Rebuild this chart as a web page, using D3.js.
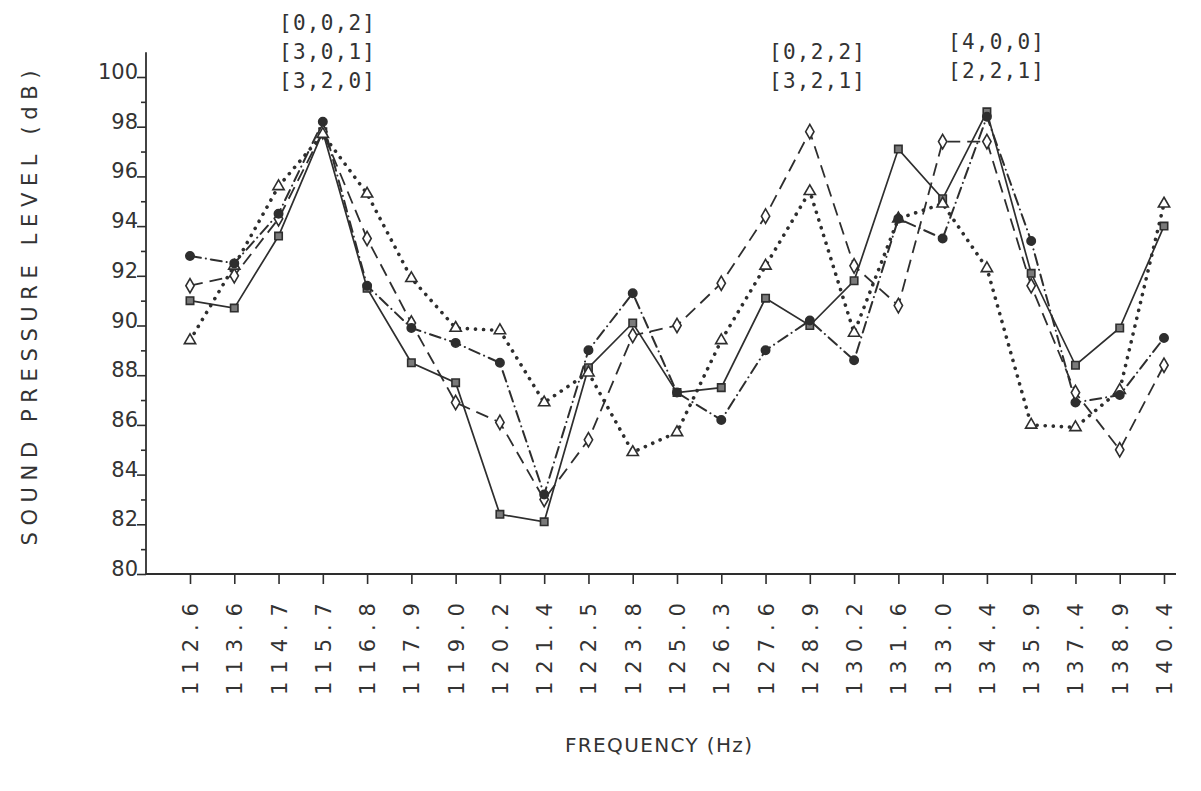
<!DOCTYPE html>
<html>
<head>
<meta charset="utf-8">
<script src="https://cdn.jsdelivr.net/npm/d3@7"></script>
<style>
  body { margin: 0; background: #fff; }
  text { font-family: "DejaVu Sans", sans-serif; fill: #333; }
</style>
</head>
<body>
<svg width="1201" height="791"></svg>
<script>
// frequencies (Hz) along the bottom
var freqs = ["112.6","113.6","114.7","115.7","116.8","117.9","119.0","120.2","121.4","122.5","123.8",
             "125.0","126.3","127.6","128.9","130.2","131.6","133.0","134.4","135.9","137.4","138.9","140.4"];

// sound pressure level (dB), one array per curve
var squareLine = [91.0, 90.7, 93.6, 97.8, 91.5, 88.5, 87.7, 82.4, 82.1, 88.3, 90.1, 87.3,
                  87.5, 91.1, 90.0, 91.8, 97.1, 95.1, 98.6, 92.1, 88.4, 89.9, 94.0];
var diamondLine = [91.6, 92.0, 94.3, 97.8, 93.5, 90.1, 86.9, 86.1, 83.0, 85.4, 89.6, 90.0,
                   91.7, 94.4, 97.8, 92.4, 90.8, 97.4, 97.4, 91.6, 87.3, 85.0, 88.4];
var triangleLine = [89.4, 92.4, 95.6, 97.7, 95.3, 91.9, 89.9, 89.8, 86.9, 88.1, 84.9, 85.7,
                    89.4, 92.4, 95.4, 89.7, 94.3, 94.9, 92.3, 86.0, 85.9, 87.4, 94.9];
var circleLine = [92.8, 92.5, 94.5, 98.2, 91.6, 89.9, 89.3, 88.5, 83.2, 89.0, 91.3, 87.3,
                  86.2, 89.0, 90.2, 88.6, 94.3, 93.5, 98.4, 93.4, 86.9, 87.2, 89.5];

var yTicks = [80, 82, 84, 86, 88, 90, 92, 94, 96, 98, 100];

// annotation groups above the peaks
var notes = [
  {at: "115.7", lines: ["[0,0,2]", "[3,0,1]", "[3,2,0]"]},
  {at: "128.9", lines: ["[0,2,2]", "[3,2,1]"]},
  {at: "134.4", lines: ["[4,0,0]", "[2,2,1]"]}
];

var ink = "#2e2e2e";
var svg = d3.select("svg");

var x = d3.scalePoint().domain(freqs).range([190, 1164]);
var y = d3.scaleLinear().domain([80, 100]).range([574, 77]);

// axis lines
svg.append("line")
  .attr("x1", 146).attr("x2", 146)
  .attr("y1", y(101)).attr("y2", y(80))
  .attr("stroke", ink).attr("stroke-width", 1.8);
svg.append("line")
  .attr("x1", 146).attr("x2", 1176)
  .attr("y1", y(80)).attr("y2", y(80))
  .attr("stroke", ink).attr("stroke-width", 1.8);

// y ticks: major every 2, minor in between
var yMajor = svg.append("g").attr("transform", "translate(146,0)")
  .call(d3.axisLeft(y).tickValues(yTicks).tickSize(9).tickFormat(""));
var yMinor = svg.append("g").attr("transform", "translate(146,0)")
  .call(d3.axisLeft(y).tickValues(d3.range(81, 100, 2)).tickSize(5).tickFormat(""));
[yMajor, yMinor].forEach(function(g) {
  g.select(".domain").remove();
  g.selectAll(".tick line").attr("stroke", ink).attr("stroke-width", 1.6);
});

svg.selectAll(".ylab")
  .data(yTicks)
  .enter().append("text")
  .attr("class", "ylab")
  .attr("x", 138)
  .attr("y", function(d) { return y(d) + 2; })
  .attr("text-anchor", "end")
  .style("font-size", "21px")
  .text(function(d) { return d; });

// x ticks
var xAxis = svg.append("g").attr("transform", "translate(0," + y(80) + ")")
  .call(d3.axisBottom(x).tickSize(10).tickFormat(""));
xAxis.select(".domain").remove();
xAxis.selectAll(".tick line").attr("stroke", ink).attr("stroke-width", 1.6);

svg.selectAll(".xlab")
  .data(freqs)
  .enter().append("text")
  .attr("class", "xlab")
  .attr("transform", function(d) { return "translate(" + (x(d) + 8) + ",603) rotate(-90)"; })
  .attr("text-anchor", "end")
  .attr("textLength", 92)
  .attr("lengthAdjust", "spacing")
  .style("font-size", "21px")
  .text(function(d) { return d; });

// axis titles
svg.append("text")
  .attr("transform", "translate(37,308) rotate(-90)")
  .attr("text-anchor", "middle")
  .attr("textLength", 475)
  .attr("lengthAdjust", "spacing")
  .style("font-size", "21px")
  .text("SOUND PRESSURE LEVEL (dB)");

svg.append("text")
  .attr("x", 565).attr("y", 752)
  .attr("textLength", 187)
  .attr("lengthAdjust", "spacing")
  .style("font-size", "20px")
  .text("FREQUENCY (Hz)");

// annotations
notes.forEach(function(n, k) {
  var cx = [327, 817, 996][k];
  var bottom = [88, 88, 78][k];
  n.lines.forEach(function(t, i) {
    svg.append("text")
      .attr("x", cx - 48)
      .attr("y", bottom - (n.lines.length - 1 - i) * 29)
      .attr("textLength", 96)
      .attr("lengthAdjust", "spacing")
      .style("font-family", "DejaVu Sans Mono, monospace")
      .style("font-size", "21px")
      .text(t);
  });
});

// curves
var line = d3.line()
  .x(function(d, i) { return x(freqs[i]); })
  .y(function(d) { return y(d); });

var series = [
  {vals: squareLine, dash: null, width: 1.7, cap: "butt", mark: "square"},
  {vals: diamondLine, dash: "13,7", width: 1.8, cap: "butt", mark: "diamond"},
  {vals: triangleLine, dash: "0.1,8", width: 3.6, cap: "round", mark: "triangle"},
  {vals: circleLine, dash: "11,5,0.1,5", width: 2, cap: "round", mark: "circle"}
];

series.forEach(function(s) {
  svg.append("path")
    .datum(s.vals)
    .attr("d", line)
    .attr("fill", "none")
    .attr("stroke", ink)
    .attr("stroke-width", s.width)
    .attr("stroke-linecap", s.cap)
    .attr("stroke-dasharray", s.dash);
});

var symbols = {
  square: {type: d3.symbolSquare, size: 55, fill: "#7a7a7a"},
  diamond: {type: d3.symbolDiamond, size: 60, fill: "#fff"},
  triangle: {type: d3.symbolTriangle, size: 55, fill: "#fff"},
  circle: {type: d3.symbolCircle, size: 55, fill: ink}
};

series.forEach(function(s) {
  var sym = symbols[s.mark];
  svg.append("g")
    .selectAll("path")
    .data(s.vals)
    .enter().append("path")
    .attr("transform", function(d, i) { return "translate(" + x(freqs[i]) + "," + y(d) + ")"; })
    .attr("d", d3.symbol().type(sym.type).size(sym.size))
    .attr("fill", sym.fill)
    .attr("stroke", ink)
    .attr("stroke-width", 1.6);
});
</script>
</body>
</html>
